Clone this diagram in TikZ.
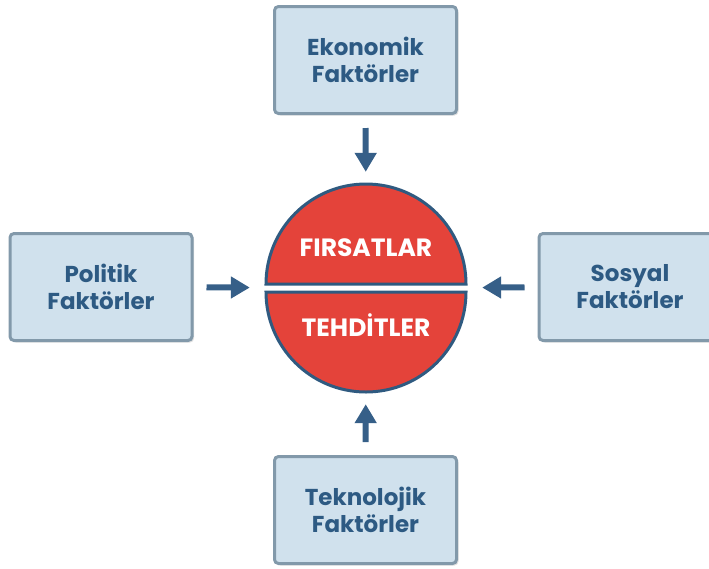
\documentclass[tikz,border=0pt]{standalone}
\usepackage{fontspec}
\setmainfont{Poppins}
\usetikzlibrary{arrows.meta,positioning,shadows}
\definecolor{boxfill}{HTML}{D0E1ED}
\definecolor{boxline}{HTML}{8299AA}
\definecolor{boxtext}{HTML}{2D5A83}
\definecolor{redfill}{HTML}{E4433A}
\definecolor{ringline}{HTML}{2F5A80}
\definecolor{arrowcol}{HTML}{365F88}
\tikzset{
  factor/.style={draw=boxline, line width=3pt, fill=boxfill, rounded corners=4pt,
    minimum width=182pt, minimum height=107pt, align=center,
    font=\fontsize{23}{27}\selectfont\bfseries, text=boxtext,
    drop shadow={shadow xshift=2pt, shadow yshift=-2pt, opacity=0.25}},
  push/.style={arrowcol, line width=6pt, -{Triangle[length=19pt, width=21pt]},
    shorten <=13pt, shorten >=13pt},
  half/.style={fill=redfill, draw=ringline, line width=3pt}
}
\begin{document}
\begin{tikzpicture}[x=1pt, y=-1pt]
    \useasboundingbox (0,0) rectangle (709,568);
    % center circle
    \node[circle, minimum size=206pt, inner sep=0pt] (core) at (366,288) {};
    \path[half] (266,284) arc[start angle=180, end angle=360, radius=100] -- cycle;
    \path[half] (266,292) arc[start angle=180, end angle=0, radius=100] -- cycle;
    \node[text=white, font=\fontsize{25}{29}\selectfont\bfseries] (opp) at (366,248) {FIRSATLAR};
    \node[text=white, font=\fontsize{25}{29}\selectfont\bfseries] (thr) at (366,325) {TEHDİTLER};
    % factors
    \node[factor] (eko) at (365.5,60) {Ekonomik\\Faktörler};
    \node[factor] (pol) at (101,287) {Politik\\Faktörler};
    \node[factor] (sos) at (630,287) {Sosyal\\Faktörler};
    \node[factor] (tek) at (365.5,510) {Teknolojik\\Faktörler};
    % arrows
    \draw[push] (eko) -- (core);
    \draw[push] (pol) -- (core);
    \draw[push] (sos) -- (core);
    \draw[push] (tek) -- (core);
\end{tikzpicture}
\end{document}
